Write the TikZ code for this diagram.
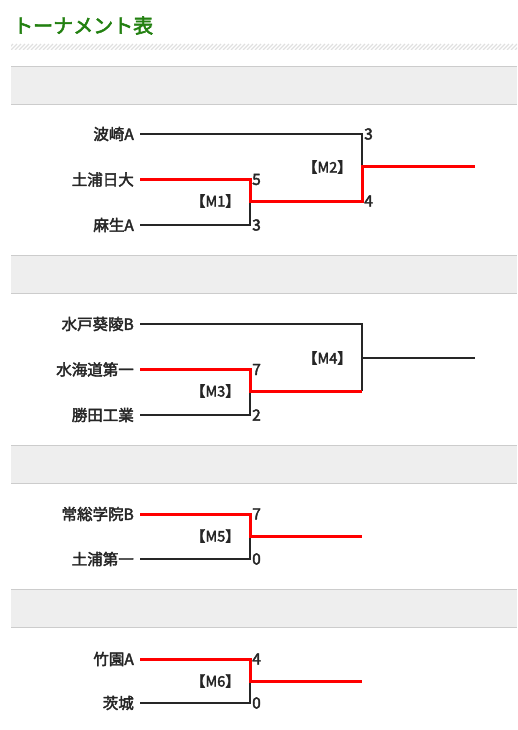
\documentclass[tikz,border=0pt]{standalone}
\usepackage{fontspec}
\usepackage{xcolor}
\usetikzlibrary{positioning}
\newfontfamily\jpfont[FakeBold=2.6]{Noto Sans CJK JP}
\definecolor{titlegreen}{RGB}{34,128,16}
\definecolor{bandgray}{RGB}{238,238,238}
\definecolor{bandline}{RGB}{204,204,204}
\definecolor{winred}{RGB}{255,0,0}

\begin{document}
\begin{tikzpicture}[
			x=1pt, y=-1pt,
			every node/.style={font=\jpfont\fontsize{15.5}{17}\selectfont, text=black!85},
			team/.style={anchor=east, inner xsep=6pt, inner ysep=0pt},
			score/.style={anchor=west, inner xsep=2pt, inner ysep=0pt},
			match/.style={
				anchor=east, inner sep=0pt, xshift=-10pt,
				font=\jpfont\fontsize{14.5}{16}\selectfont
			},
			lose/.style={draw=black!85, line width=2pt},
			win/.style={draw=winred, line width=3pt},
			stripe/.style={draw=black!12, line width=1.2pt}
			]
			\useasboundingbox (0,0) rectangle (517,730);
			
			% heading and bands
			\node[anchor=west, inner sep=0pt, text=titlegreen,
				font=\jpfont\fontsize{20}{24}\selectfont] (title) at (13,25.5) {トーナメント表};
			\begin{scope}
				\clip (11,44) rectangle (517,50);
				\foreach \x in {3,7,...,521}
					\draw[stripe] (\x,50) -- (\x+6,44);
			\end{scope}
			\foreach \y in {66,255,445,589} {
				\fill[bandgray] (11,\y) rectangle (517,\y+38);
				\draw[bandline] (11,\y) -- (517,\y) (11,\y+38) -- (517,\y+38);
			}
			
			% teams
			\node[team] (namizaki) at (140,134) {波崎A};
			\node[team] (tsuchiura) at (140,179.5) {土浦日大};
			\node[team] (aso) at (140,225) {麻生A};
			\node[team] (mito) at (140,324) {水戸葵陵B};
			\node[team] (mitsukaido) at (140,369.5) {水海道第一};
			\node[team] (katsuta) at (140,415) {勝田工業};
			\node[team] (joso) at (140,514) {常総学院B};
			\node[team] (tsuchiura1) at (140,559) {土浦第一};
			\node[team] (takezono) at (140,659) {竹園A};
			\node[team] (ibaraki) at (140,703) {茨城};
			
			% junctions
			\coordinate (m1) at (250,201);
			\coordinate (m2) at (362,167);
			\coordinate (o2) at (475,167);
			\coordinate (m3) at (250,391);
			\coordinate (m4) at (362,358);
			\coordinate (o4) at (475,358);
			\coordinate (m5) at (250,536);
			\coordinate (o5) at (362,536);
			\coordinate (m6) at (250,681);
			\coordinate (o6) at (362,681);
			
			% lines
			\draw[lose] (namizaki.east) -| (m2);
			\draw[lose] (aso.east) -| (m1);
			\draw[win] (tsuchiura.east) -| (m1) -| (m2) -- (o2);
			
			\draw[lose] (mito.east) -| (m3 -| m4);
			\draw[lose] (katsuta.east) -| (m3);
			\draw[lose] (m4) -- (o4);
			\draw[win] (mitsukaido.east) -| (m3) -- (m3 -| m4);
			
			\draw[lose] (tsuchiura1.east) -| (m5);
			\draw[win] (joso.east) -| (m5) -- (o5);
			
			\draw[lose] (ibaraki.east) -| (m6);
			\draw[win] (takezono.east) -| (m6) -- (o6);
			
			% scores
			\node[score] (s1a) at (m1 |- tsuchiura) {5};
			\node[score] (s1b) at (m1 |- aso) {3};
			\node[score] (s2a) at (m2 |- namizaki) {3};
			\node[score] (s2b) at (m2 |- m1) {4};
			\node[score] (s3a) at (m3 |- mitsukaido) {7};
			\node[score] (s3b) at (m3 |- katsuta) {2};
			\node[score] (s5a) at (m5 |- joso) {7};
			\node[score] (s5b) at (m5 |- tsuchiura1) {0};
			\node[score] (s6a) at (m6 |- takezono) {4};
			\node[score] (s6b) at (m6 |- ibaraki) {0};
			
			% match labels
			\node[match] (lm1) at (m1) {【M1】};
			\node[match] (lm2) at (m2) {【M2】};
			\node[match] (lm3) at (m3) {【M3】};
			\node[match] (lm4) at (m4) {【M4】};
			\node[match] (lm5) at (m5) {【M5】};
			\node[match] (lm6) at (m6) {【M6】};
		\end{tikzpicture}
\end{document}
